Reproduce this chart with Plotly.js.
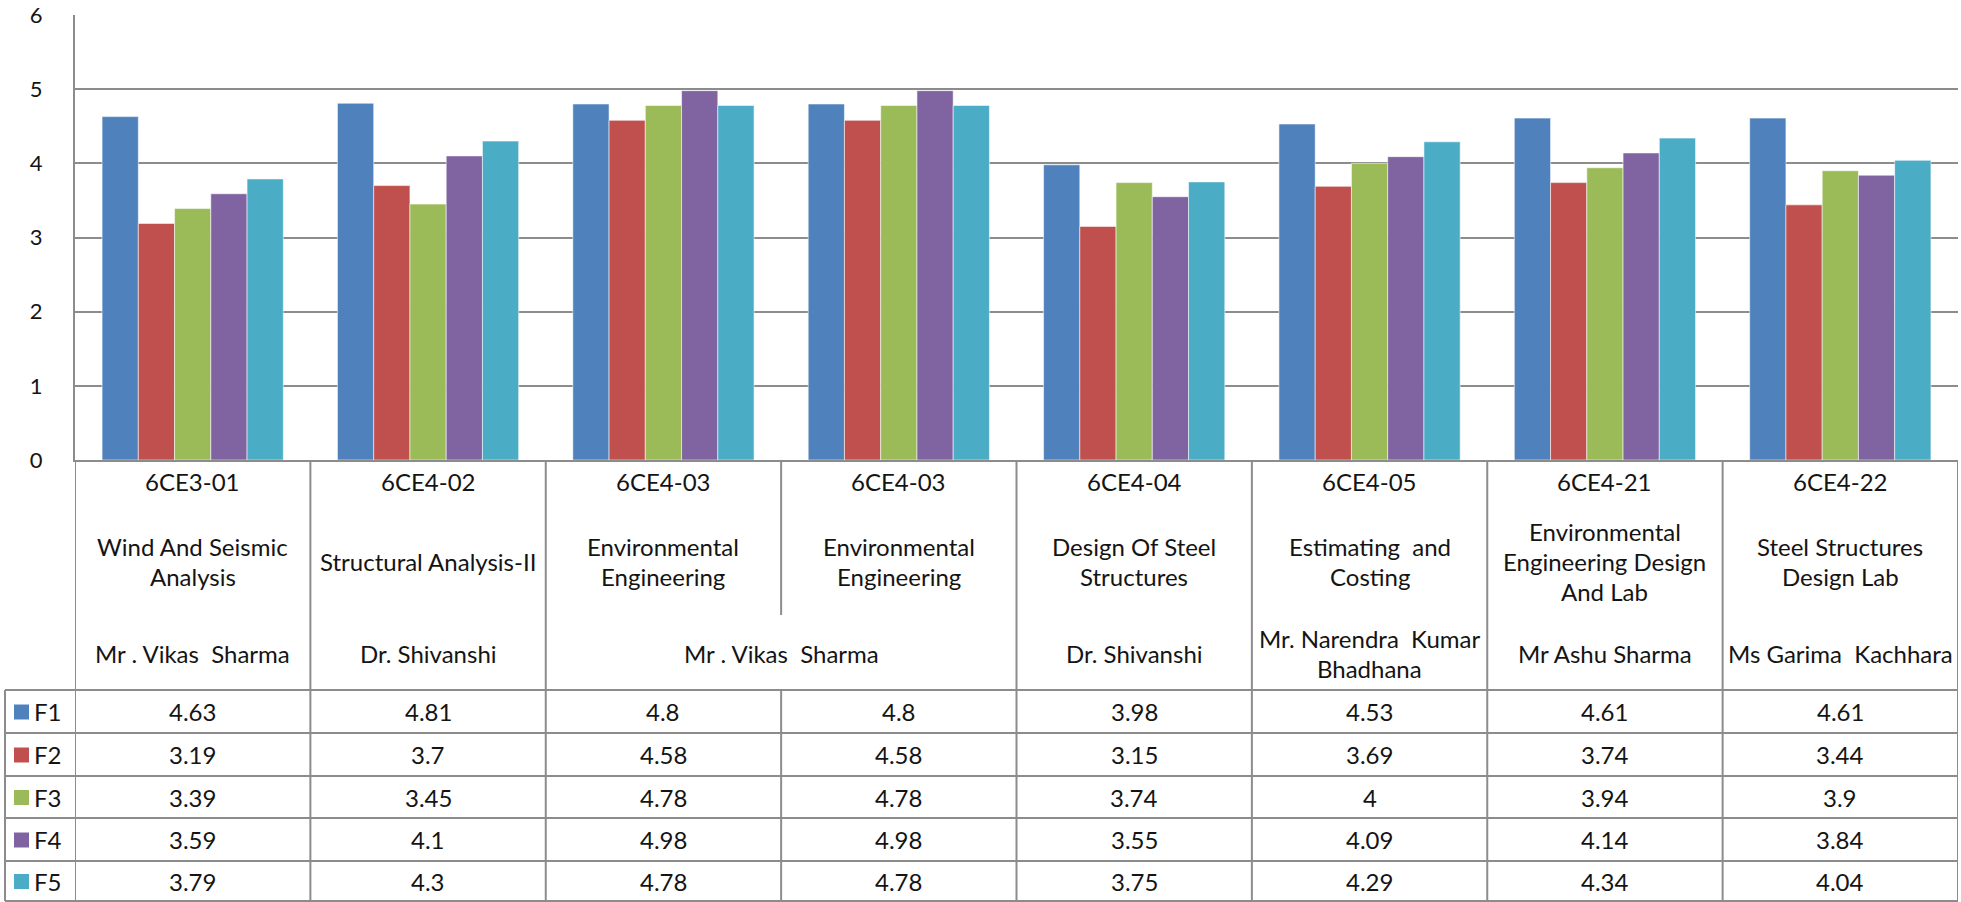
<!DOCTYPE html>
<html>
<head>
<meta charset="utf-8">
<script src="https://cdn.plot.ly/plotly-3.0.1.min.js"></script>
<style>html,body{margin:0;padding:0;background:#fff;}#chart{width:1961px;height:902px;}</style>
</head>
<body>
<div id="chart"></div>
<script>
// ---- data ----
const codes = ["6CE3-01","6CE4-02","6CE4-03","6CE4-03","6CE4-04","6CE4-05","6CE4-21","6CE4-22"];
const subjects = ["Wind And Seismic<br>Analysis","Structural Analysis-II","Environmental<br>Engineering","Environmental<br>Engineering","Design Of Steel<br>Structures","Estimating  and<br>Costing","Environmental<br>Engineering Design<br>And Lab","Steel Structures<br>Design Lab"];
const instructors = ["Mr . Vikas  Sharma","Dr. Shivanshi","Mr . Vikas  Sharma","Mr . Vikas  Sharma","Dr. Shivanshi","Mr. Narendra  Kumar<br>Bhadhana","Mr Ashu Sharma","Ms Garima  Kachhara"];
const seriesNames = ["F1","F2","F3","F4","F5"];
const F1 = [4.63,4.81,4.8,4.8,3.98,4.53,4.61,4.61];
const F2 = [3.19,3.7,4.58,4.58,3.15,3.69,3.74,3.44];
const F3 = [3.39,3.45,4.78,4.78,3.74,4,3.94,3.9];
const F4 = [3.59,4.1,4.98,4.98,3.55,4.09,4.14,3.84];
const F5 = [3.79,4.3,4.78,4.78,3.75,4.29,4.34,4.04];
const seriesValues = [F1,F2,F3,F4,F5];
const colors = ["#4F81BD","#C0504D","#9BBB59","#8064A2","#4BACC6"];

// ---- layout geometry (pixels) ----
const W = 1961, H = 902;
const plotL = 75, plotR = 1958, plotT = 15, plotB = 460;
const plotW = plotR - plotL, plotH = plotB - plotT;
const py = p => (plotB - p) / plotH;       // pixel y -> paper y
const px = p => (p - plotL) / plotW;       // pixel x -> paper x
const FONT = "Lato, 'Open Sans', sans-serif";
const FS = 24;
const TXT = "#141414";
const GRID = "#8c8c8c";

const xs = codes.map((_, i) => i);
const traces = seriesValues.map((vals, s) => ({
  type: "bar", name: seriesNames[s], x: xs, y: vals,
  marker: {color: colors[s], line: {color: "rgba(255,255,255,0.55)", width: 1}},
  hoverinfo: "y", showlegend: false
}));

const shapes = [];
const annotations = [];
const lineStyle = {color: GRID, width: 2};

// row boundaries of the data table
const rowLines = [690, 733, 776, 818, 861, 901];
const tableL = 5;
rowLines.forEach(y => shapes.push({type: "line", xref: "paper", yref: "paper",
  x0: px(tableL), x1: 1, y0: py(y), y1: py(y), line: lineStyle}));
// legend column left border
shapes.push({type: "line", xref: "paper", yref: "paper", x0: px(tableL), x1: px(tableL),
  y0: py(rowLines[0]), y1: py(rowLines[rowLines.length - 1]), line: lineStyle});
// left & right table borders
[-0.5, codes.length - 0.5].forEach(x => shapes.push({type: "line", xref: "x", yref: "paper",
  x0: x, x1: x, y0: py(plotB), y1: py(901), line: lineStyle}));
// internal column separators (partial where instructor cells merge)
for (let k = 1; k < codes.length; k++) {
  const merged = instructors[k] === instructors[k - 1];
  if (merged) {
    shapes.push({type: "line", xref: "x", yref: "paper", x0: k - 0.5, x1: k - 0.5,
      y0: py(plotB), y1: py(615), line: lineStyle});
    shapes.push({type: "line", xref: "x", yref: "paper", x0: k - 0.5, x1: k - 0.5,
      y0: py(rowLines[0]), y1: py(901), line: lineStyle});
  } else {
    shapes.push({type: "line", xref: "x", yref: "paper", x0: k - 0.5, x1: k - 0.5,
      y0: py(plotB), y1: py(901), line: lineStyle});
  }
}

function addLines(text, xc, yc, spacing) {
  const parts = text.split("<br>");
  parts.forEach((t, j) => {
    const y = yc + (j - (parts.length - 1) / 2) * spacing;
    annotations.push({xref: "x", yref: "paper", x: xc, y: py(y), text: t, showarrow: false,
      xanchor: "center", yanchor: "middle", font: {family: FONT, size: FS, color: TXT}});
  });
}

// header rows
codes.forEach((c, i) => addLines(c, i, 481, 30));
subjects.forEach((s, i) => addLines(s, i, 561, 30));
for (let i = 0; i < instructors.length; i++) {
  let j = i;
  while (j + 1 < instructors.length && instructors[j + 1] === instructors[i]) j++;
  addLines(instructors[i], (i + j) / 2, 653, 30);
  i = j;
}
// data rows
seriesValues.forEach((vals, s) => {
  const yc = (rowLines[s] + rowLines[s + 1]) / 2;
  vals.forEach((v, i) => annotations.push({xref: "x", yref: "paper", x: i, y: py(yc), text: String(v),
    showarrow: false, xanchor: "center", yanchor: "middle", font: {family: FONT, size: FS, color: TXT}}));
  // legend key
  shapes.push({type: "rect", xref: "paper", yref: "paper", x0: px(14), x1: px(29),
    y0: py(yc - 7), y1: py(yc + 8), fillcolor: colors[s], line: {width: 0}});
  annotations.push({xref: "paper", yref: "paper", x: px(32), y: py(yc), text: seriesNames[s], showarrow: false,
    xanchor: "left", yanchor: "middle", font: {family: FONT, size: FS, color: TXT}});
});

const layout = {
  width: W, height: H,
  margin: {l: plotL, r: W - plotR, t: plotT, b: H - plotB, pad: 0},
  paper_bgcolor: "#fff", plot_bgcolor: "#fff",
  barmode: "group", bargap: 0.23, bargroupgap: 0,
  showlegend: false,
  xaxis: {range: [-0.5, codes.length - 0.5], showticklabels: false, ticks: "", showgrid: false,
    zeroline: false, showline: true, linecolor: GRID, linewidth: 2, fixedrange: true},
  yaxis: {range: [0, 6], dtick: 1, tick0: 0, showgrid: true, gridcolor: GRID, gridwidth: 2,
    zeroline: false, showline: true, linecolor: GRID, linewidth: 2, ticks: "",
    ticklabelstandoff: 26, tickfont: {family: FONT, size: 22, color: TXT}, fixedrange: true},
  shapes: shapes, annotations: annotations,
  font: {family: FONT}
};

Plotly.newPlot("chart", traces, layout, {staticPlot: true, displayModeBar: false});
</script>
</body>
</html>
